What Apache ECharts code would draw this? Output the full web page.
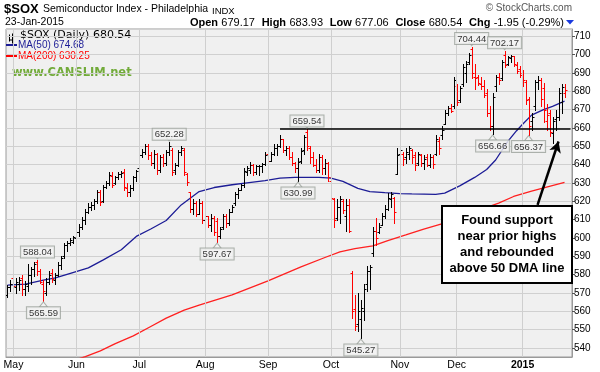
<!DOCTYPE html>
<html><head><meta charset="utf-8">
<script src="https://cdn.jsdelivr.net/npm/echarts@6/dist/echarts.min.js"></script>
<style>html,body{margin:0;padding:0;background:#fff}#c{width:600px;height:372px}</style>
</head><body><div id="c"></div>
<script>
// ---------- DATA ----------
const dates = [
'2014-04-29','2014-04-30',
'2014-05-01','2014-05-02','2014-05-05','2014-05-06','2014-05-07','2014-05-08','2014-05-09','2014-05-12','2014-05-13','2014-05-14','2014-05-15','2014-05-16','2014-05-19','2014-05-20','2014-05-21','2014-05-22','2014-05-23','2014-05-27','2014-05-28','2014-05-29','2014-05-30',
'2014-06-02','2014-06-03','2014-06-04','2014-06-05','2014-06-06','2014-06-09','2014-06-10','2014-06-11','2014-06-12','2014-06-13','2014-06-16','2014-06-17','2014-06-18','2014-06-19','2014-06-20','2014-06-23','2014-06-24','2014-06-25','2014-06-26','2014-06-27','2014-06-30',
'2014-07-01','2014-07-02','2014-07-03','2014-07-07','2014-07-08','2014-07-09','2014-07-10','2014-07-11','2014-07-14','2014-07-15','2014-07-16','2014-07-17','2014-07-18','2014-07-21','2014-07-22','2014-07-23','2014-07-24','2014-07-25','2014-07-28','2014-07-29','2014-07-30','2014-07-31',
'2014-08-01','2014-08-04','2014-08-05','2014-08-06','2014-08-07','2014-08-08','2014-08-11','2014-08-12','2014-08-13','2014-08-14','2014-08-15','2014-08-18','2014-08-19','2014-08-20','2014-08-21','2014-08-22','2014-08-25','2014-08-26','2014-08-27','2014-08-28','2014-08-29',
'2014-09-02','2014-09-03','2014-09-04','2014-09-05','2014-09-08','2014-09-09','2014-09-10','2014-09-11','2014-09-12','2014-09-15','2014-09-16','2014-09-17','2014-09-18','2014-09-19','2014-09-22','2014-09-23','2014-09-24','2014-09-25','2014-09-26','2014-09-29','2014-09-30',
'2014-10-01','2014-10-02','2014-10-03','2014-10-06','2014-10-07','2014-10-08','2014-10-09','2014-10-10','2014-10-13','2014-10-14','2014-10-15','2014-10-16','2014-10-17','2014-10-20','2014-10-21','2014-10-22','2014-10-23','2014-10-24','2014-10-27','2014-10-28','2014-10-29','2014-10-30','2014-10-31',
'2014-11-03','2014-11-04','2014-11-05','2014-11-06','2014-11-07','2014-11-10','2014-11-11','2014-11-12','2014-11-13','2014-11-14','2014-11-17','2014-11-18','2014-11-19','2014-11-20','2014-11-21','2014-11-24','2014-11-25','2014-11-26','2014-11-28',
'2014-12-01','2014-12-02','2014-12-03','2014-12-04','2014-12-05','2014-12-08','2014-12-09','2014-12-10','2014-12-11','2014-12-12','2014-12-15','2014-12-16','2014-12-17','2014-12-18','2014-12-19','2014-12-22','2014-12-23','2014-12-24','2014-12-26','2014-12-29','2014-12-30','2014-12-31',
'2015-01-02','2015-01-05','2015-01-06','2015-01-07','2015-01-08','2015-01-09','2015-01-12','2015-01-13','2015-01-14','2015-01-15','2015-01-16','2015-01-20','2015-01-21','2015-01-22','2015-01-23'
];
const emptySlots = ['', ' '];

const opens = [569,573,578,573,575,578,572,574,580,583,587,582,575,570,576,581,577,580,585,590,596,597,598,
600,603,606,610,614,617,618,620,625,620,628,630,634,630,633,635,636,627,625,627,633,
638,645,647,650,645,641,646,637,644,641,647,648,637,640,647,648,635,625,616,619,613,619,
610,612,607,611,609,601,606,612,608,614,619,624,626,629,636,637,640,636,639,639,640.5,
646,642,646,649,650,654,648,649,644,641,638,642,648,658,649,644,640,637,644,638,641,
631,621,611,617,620,612,618,581,561,553,556,560,575,582,592,604,603,607,612,616,621,622,635,
646,646,644,646,648,645,641,645,641,644,640,644,646,653,656,662,668,671,672,
683,675,684,690,696,703,688,688,684,683,679,668,661,683,688,687,700,695,698,699,694.5,692,
690,685,676,664,672,685,686,682,664,668,657,665,666,674,679.17];
const highs = [574.5,577,581,578,578.5,580,576.5,586,584,587,588.04,583,577,578,582,583,581,587,590,597,598.5,600,601,
605,607.5,611.5,616,619,619.5,621,626,626,629,631,636,636,634,636,636.5,637.5,630,629,634,637,
646,648.5,651,651,647,648,646.5,645,646,648,652.28,649,641,648,650,649,635.5,625,621,620,621,620,
614,612,613,612,611,606,613,613,615.5,618,625,627,629.5,638,639,641.5,640.5,640,640,641,647,
647,647,651,651.5,656.3,654,650,650,647,641.5,643.5,649,656,659.54,650,647,643,646,645,643,641.5,
631,622,621,623,621,621,621,581.7,569,570,566,575,584.5,585,606,611,608,613.5,618,624.5,625,622.5,649,
650,647,649,650,648.5,647,647,646,645,646,646,645,656,655,661,670,672,673,688,
684,683,695,696.5,701,704.44,695,689,688,686,681,672,679,689,690,697,702.17,699.5,699.8,699.5,696,694,
691.5,686,677,668,686,688.5,687,684.5,673,670,666,670,682,684,683.93];
const lows = [567.5,571,572,570,571.5,569,569,571,575,579,580,575.5,565.59,569,575,576,575,579,583,589,593,596,597,
597,601,605,607.5,613.5,615,616,619,618,619.5,627,629,628,629.5,632,633,626,623,623,626,631,
638,644,646,643,640,638,635,636,639,640,645,634.5,635,639,645,634.5,629,614,613,612,613,608,
605,606,604,601.5,597.67,600,605,606,607,614,618,622,626,628,634.5,635.5,634.5,635,634.5,636,640,
640,642,645.5,645,649.5,647,645,643,640,636,630.99,641,646,648,641,639,636,636,635,635,631,
620,606,610,608,613.5,604,603,556.5,550,549,545.27,555,571,572,590,596,602.5,607,611,615,617,608,635,
642,640,641,643,641,637,640,639,637.5,639,638.5,638,645,646,654,662,667,668.5,671,
672.5,674,683,685,695,687.5,681.5,683.5,681,677,666.5,659,656.66,680,684,686,693.5,694.5,696,694,690,688,
683,673,656.37,659,670,681,672,663.5,659,655.5,652,659,664.5,668,677.06];
const closes = [573,575,573.5,576,577,572,575,580,583,586,582,576,571,576,580,577.5,580,585,589,596,597,599,600.5,
603,606,610,614,617,618,620,625,619.5,628,630,634.5,629,633.5,635,635.5,628,625,627.5,633,636.5,
645,647,650,645,641,646,637,644,641,647,650,636,640,647,649,636,630.5,616,619,613,619,610,
612,607,611,603,601,605,612,608,614,617,624,626,629,636.5,638,640,636,639,639.5,640.5,645.5,
642,646,649,650,654,648,649,644,641,638,641.5,647.5,655,650,644,640,637,644,638,641,633,
622,610,617,621,615,618,604,560,552,560,562,572,582,584,604,600,606,612,616,622,624,614,645,
648,643,647,649,644,640,646,641,643,640,644,640.5,654,649,659,668,671,669.5,686,
674,682,693,695,700,690,687,684.5,683,678,668,661,677,688,686,696,694.5,698.5,699,695,691,689,
686,675,661,666,685,686,676,670,667,658,664,666,679,682.49,680.54];

// moving averages: [date, value]
const ma50 = [['2014-04-29',574.2],['2014-05-07',574.8],['2014-05-15',577],['2014-05-21',578.2],['2014-05-29',580.7],
['2014-06-06',583.6],['2014-06-13',588],['2014-06-23',593.5],['2014-06-30',600.8],['2014-07-08',605],['2014-07-15',609.5],
['2014-07-22',618],['2014-07-30',625.3],['2014-08-06',627.5],['2014-08-14',629],['2014-08-21',630],['2014-08-29',631.2],
['2014-09-08',632.6],['2014-09-15',633],['2014-09-25',633],['2014-10-01',632.6],['2014-10-07',630.8],['2014-10-14',627],
['2014-10-20',625.3],['2014-10-27',624.7],['2014-11-03',624.2],['2014-11-07',624],['2014-11-13',623.9],['2014-11-19',623.8],
['2014-11-24',624.4],['2014-12-02',628.4],['2014-12-09',633],['2014-12-15',637.3],['2014-12-18',642.5],['2014-12-24',652.5],
['2014-12-30',658.5],['2015-01-02',662],['2015-01-07',667],['2015-01-13',670],['2015-01-16',671.8],['2015-01-23',674.68]];
const ma200 = [['2014-05-28',532],['2014-06-05',535.2],['2014-06-12',538.3],['2014-06-19',542.3],['2014-06-27',546.5],
['2014-07-08',551.8],['2014-07-15',556.2],['2014-07-23',560.6],['2014-07-30',563.3],['2014-08-14',568.9],['2014-09-02',576.5],
['2014-09-17',584.2],['2014-09-29',589.3],['2014-10-06',592.4],['2014-10-13',594.2],['2014-10-21',595.7],['2014-10-28',598.5],
['2014-11-05',601.6],['2014-11-13',604.8],['2014-11-21',607.6],['2014-12-04',612.6],['2014-12-19',619],['2014-12-29',622.6],
['2015-01-07',625.5],['2015-01-14',627.7],['2015-01-23',630.25]];

const peakLabels = [['2014-05-13',588.04],['2014-07-16',652.28],['2014-09-19',659.54],['2014-12-08',704.44],['2014-12-23',702.17]];
const troughLabels = [['2014-05-15',565.59],['2014-08-07',597.67],['2014-09-16',630.99],['2014-10-15',545.27],['2014-12-17',656.66],['2015-01-06',656.37]];
const supportLevel = 659.54, supportFrom = '2014-09-08';
const monthNames = ['Jan','Feb','Mar','Apr','May','Jun','Jul','Aug','Sep','Oct','Nov','Dec'];
const arrowFrom = ['2015-01-09', 618], arrowTo = ['2015-01-21', 652.6];

// ---------- BUILD ----------
const cats = dates.concat(emptySlots);
const ohlc = dates.map((d, i) => [i, opens[i], highs[i], lows[i], closes[i],
  (i > 0 && closes[i] < closes[i - 1]) ? 1 : 0]);
const monthStarts = dates.filter((d, i) => i === 0 ? false : d.slice(5, 7) !== dates[i - 1].slice(5, 7));
const monthSet = new Set(monthStarts);

const chart = echarts.init(document.getElementById('c'), null, {renderer: 'canvas'});
const FONT = 'Liberation Sans, Arial, sans-serif';
const VFONT = 'DejaVu Sans, Verdana, sans-serif';

const labelBox = {
  color: '#000', fontFamily: FONT, fontSize: 9.5, lineHeight: 10, backgroundColor: '#f4f4f4',
  borderColor: '#9aa09a', borderWidth: 1, padding: [1, 2, 0, 2]
};

chart.setOption({
  animation: false,
  backgroundColor: '#ffffff',
  grid: {left: 6, right: 28, top: 29, bottom: 15, show: true, backgroundColor: '#f0f0f0', borderColor: '#9a9a9a', borderWidth: 1},
  xAxis: {
    type: 'category', data: cats, boundaryGap: true,
    axisLine: {show: true, lineStyle: {color: '#9a9a9a'}},
    axisTick: {show: false},
    splitLine: {show: false},
    axisLabel: {
      interval: (i, v) => monthSet.has(v), margin: 3,
      fontFamily: FONT, fontSize: 10.5, color: '#000',
      formatter: v => {
        const m = +v.slice(5, 7);
        return m === 1 ? '{b|' + v.slice(0, 4) + '}' : monthNames[m - 1];
      },
      rich: {b: {fontWeight: 'bold', fontFamily: FONT, fontSize: 10.5, color: '#000'}}
    }
  },
  yAxis: {
    type: 'value', position: 'right', min: 535, max: 714, splitNumber: 18, scale: true,
    axisLine: {show: true, lineStyle: {color: '#9a9a9a'}},
    axisTick: {show: true, length: 3, lineStyle: {color: '#555'}},
    splitLine: {show: true, lineStyle: {color: '#d0d0d0', width: 1}},
    axisLabel: {
      margin: 2, fontFamily: FONT, fontSize: 10, color: '#000',
      showMinLabel: false, showMaxLabel: false,
      formatter: v => (v % 10 === 0 ? String(v) : '')
    }
  },
  series: [
    { // month grid lines
      type: 'line', data: [], silent: true,
      markLine: {
        silent: true, symbol: ['none', 'none'], animation: false,
        label: {show: false},
        data: monthStarts.map(d => ({xAxis: d, lineStyle: {color: '#cfcfcf', width: 1, type: 'solid'}}))
      }
    },
    {
      type: 'line', name: 'MA(200)', data: ma200, showSymbol: false, symbol: 'none', clip: true,
      lineStyle: {color: '#ff2020', width: 1.3}, z: 3
    },
    {
      type: 'line', name: 'MA(50)', data: ma50, showSymbol: false, symbol: 'none', clip: true,
      lineStyle: {color: '#1c1c96', width: 1.3}, z: 3
    },
    {
      type: 'custom', name: '$SOX', data: ohlc, z: 4, clip: true,
      encode: {x: 0, y: [1, 2, 3, 4]},
      renderItem: (params, api) => {
        const i = api.value(0);
        const pH = api.coord([i, api.value(2)]);
        const pL = api.coord([i, api.value(3)]);
        const pO = api.coord([i, api.value(1)]);
        const pC = api.coord([i, api.value(4)]);
        const x = Math.round(pH[0]) + 0.5;
        const col = api.value(5) ? '#ff0000' : '#000000';
        const yO = Math.round(pO[1]) + 0.5, yC = Math.round(pC[1]) + 0.5;
        return {type: 'group', children: [
          {type: 'line', shape: {x1: x, y1: Math.round(pH[1]), x2: x, y2: Math.round(pL[1]) + 1}, style: {stroke: col, lineWidth: 1}},
          {type: 'line', shape: {x1: x - 2, y1: yO, x2: x, y2: yO}, style: {stroke: col, lineWidth: 1}},
          {type: 'line', shape: {x1: x, y1: yC, x2: x + 2, y2: yC}, style: {stroke: col, lineWidth: 1}}
        ]};
      }
    },
    { // support line and arrow
      type: 'line', data: [], silent: true, z: 5,
      markLine: {
        silent: true, animation: false, label: {show: false},
        data: [
          [{coord: [supportFrom, supportLevel], symbol: 'none'}, {coord: [cats[cats.length - 1], supportLevel], symbol: 'none', lineStyle: {color: '#000', width: 1.5, type: 'solid'}}],
          [{coord: arrowFrom, symbol: 'none'}, {coord: arrowTo, symbol: 'arrow', symbolSize: [9, 11], lineStyle: {color: '#000', width: 2.5, type: 'solid'}}]
        ]
      }
    },
    { // peak labels
      type: 'scatter', data: peakLabels, z: 6, silent: true,
      symbol: 'triangle', symbolRotate: 180, symbolSize: [8, 5], symbolOffset: [0, -3.5],
      itemStyle: {color: '#f4f4f4', borderColor: '#9aa09a', borderWidth: 1},
      label: {show: true, position: 'top', distance: 0, offset: [0, 4], formatter: p => p.value[1].toFixed(2), ...labelBox}
    },
    { // trough labels
      type: 'scatter', data: troughLabels, z: 6, silent: true,
      symbol: 'triangle', symbolSize: [8, 5], symbolOffset: [0, 3.5],
      itemStyle: {color: '#f4f4f4', borderColor: '#9aa09a', borderWidth: 1},
      label: {show: true, position: 'bottom', distance: 0, formatter: p => p.value[1].toFixed(2), ...labelBox}
    }
  ],
  graphic: [
    {type: 'text', left: 4, top: 3, style: {text: '$SOX', font: 'bold 13px ' + FONT, fill: '#000'}},
    {type: 'text', left: 43, top: 4, style: {text: 'Semiconductor Index - Philadelphia', font: '10.5px ' + FONT, fill: '#000'}},
    {type: 'text', left: 212, top: 6, style: {text: 'INDX', font: '9.5px ' + FONT, fill: '#000'}},
    {type: 'text', left: 5, top: 17, style: {text: '23-Jan-2015', font: '10.5px ' + FONT, fill: '#000'}},
    {type: 'text', right: 36, top: 17, style: {
      rich: {b: {font: 'bold 11px ' + FONT, fill: '#000'}, n: {font: '11px ' + FONT, fill: '#000'}},
      text: '{b|Open} {n|679.17}  {b|High} {n|683.93}  {b|Low} {n|677.06}  {b|Close} {n|680.54}  {b|Chg} {n|-1.95 (-0.29%)}'
    }},
    {type: 'polygon', shape: {points: [[566, 20], [574, 20], [570, 24.5]]}, style: {fill: '#1a3adf'}},
    {type: 'text', right: 28, top: 3, style: {text: '\u00a9 StockCharts.com', font: '10px ' + FONT, fill: '#555'}},
    // legend
    {type: 'group', left: 7, top: 31, children: [
      {type: 'line', shape: {x1: 1.5, y1: 1, x2: 1.5, y2: 8}, style: {stroke: '#000', lineWidth: 1}},
      {type: 'line', shape: {x1: 4.5, y1: 0, x2: 4.5, y2: 10}, style: {stroke: '#000', lineWidth: 1}},
      {type: 'line', shape: {x1: 2, y1: 6.5, x2: 4, y2: 6.5}, style: {stroke: '#000', lineWidth: 1}}
    ]},
    {type: 'text', left: 20, top: 30, style: {text: '$SOX (Daily) 680.54', font: '11px ' + VFONT, fill: '#000'}},
    {type: 'rect', left: 6, top: 44, shape: {width: 11, height: 2}, style: {fill: '#1c1c96'}},
    {type: 'text', left: 18, top: 40, style: {text: 'MA(50) 674.68', font: '10px ' + FONT, fill: '#1c1c96'}},
    {type: 'rect', left: 6, top: 55, shape: {width: 11, height: 2}, style: {fill: '#ff0000'}},
    {type: 'text', left: 18, top: 51, style: {text: 'MA(200) 630.25', font: '10px ' + FONT, fill: '#ff0000'}},
    {type: 'text', left: 12, top: 67, style: {text: 'www.CANSLIM.net', font: 'bold 11.5px ' + VFONT, fill: '#72ab3a'}},
    // callout
    {type: 'group', left: 441, top: 205, z: 200, children: [
      {type: 'rect', z: 200, shape: {x: 0, y: 0, width: 130, height: 77}, style: {fill: '#fff', stroke: '#000', lineWidth: 2}},
      {type: 'text', z: 201, x: 65, y: 6, style: {text: 'Found support\nnear prior highs\nand rebounded\nabove 50 DMA line', font: 'bold 13px ' + FONT, fill: '#000', align: 'center', lineHeight: 16}}
    ]}
  ]
});
</script></body></html>
